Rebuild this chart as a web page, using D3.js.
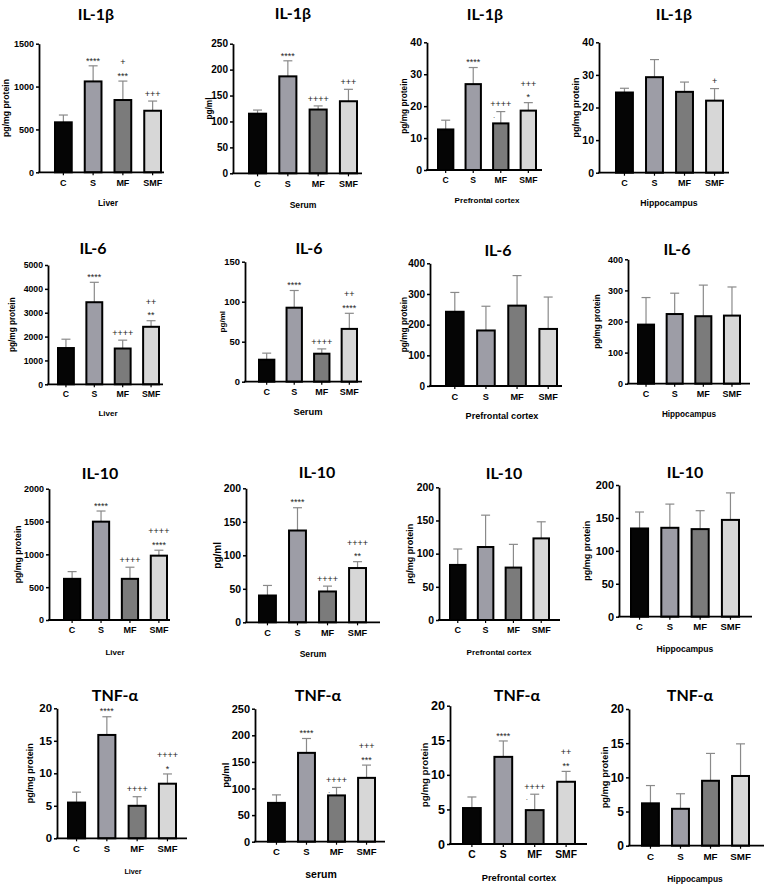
<!DOCTYPE html>
<html lang="en">
<head>
    <meta charset="UTF-8">
    <title>Cytokine levels</title>
    <script type="text/javascript" src="https://d3js.org/d3.v7.min.js"></script>
    <style>
        body { margin: 0; background: #fff; }
        .tick text, .ylab, .xlab, .mark { font-family: "Liberation Sans", Arial, sans-serif; }
        .mark { opacity: 0.99; }
        .title { font-family: Lato, "Open Sans", sans-serif; font-weight: bold; }
    </style>
</head>
<body>
    <div id="chart"></div>

    <script type="text/javascript">

        // groups and tissues
        var groups = ["C", "S", "MF", "SMF"];
        var cytokines = ["IL-1β", "IL-6", "IL-10", "TNF-α"];
        var yLabels = ["pg/mg protein", "pg/ml", "pg/mg protein", "pg/mg protein"];
        var xTitles = [
            ["Liver", "Serum", "Prefrontal cortex", "Hippocampus"],
            ["Liver", "Serum", "Prefrontal cortex", "Hippocampus"],
            ["Liver", "Serum", "Prefrontal cortex", "Hippocampus"],
            ["Liver", "serum", "Prefrontal cortex", "Hippocampus"]
        ];

        // means (rows: liver, serum, prefrontal cortex, hippocampus; cols: C, S, MF, SMF)
        var il1bMean = [[583, 1060, 843, 718], [115, 187, 123, 139], [12.7, 26.9, 14.6, 18.6], [24.6, 29.3, 24.8, 22.1]];
        var il1bSD   = [[85, 182, 221, 113], [7, 30, 7, 23], [2.9, 5.2, 3.7, 2.5], [1.3, 5.4, 3, 3.7]];
        var il6Mean  = [[1520, 3440, 1500, 2410], [27.5, 92.5, 35, 66], [242, 181, 262, 186], [190, 224, 217, 219]];
        var il6SD    = [[370, 835, 350, 255], [8.2, 21.5, 6, 19.5], [63, 79, 98, 104], [87, 67, 100, 92]];
        var il10Mean = [[627, 1498, 627, 980], [40, 137, 46, 81], [83, 110, 79, 123], [134, 135, 133, 147]];
        var il10SD   = [[110, 162, 177, 83], [15, 34, 8, 9.5], [24, 48, 35, 25], [25, 36, 28, 41]];
        var tnfMean  = [[5.5, 15.9, 5.0, 8.4], [73, 167, 87, 120], [5.2, 12.6, 4.9, 9.0], [6.2, 5.4, 9.5, 10.2]];
        var tnfSD    = [[1.6, 2.8, 1.4, 1.5], [15, 27, 15, 24], [1.6, 2.3, 2.3, 1.5], [2.6, 2.2, 4.0, 4.7]];

        // y axis maximum and tick step per panel
        var il1bMax = [1500, 250, 40, 40],  il1bStep = [500, 50, 10, 10];
        var il6Max  = [5000, 150, 400, 400], il6Step = [1000, 50, 100, 100];
        var il10Max = [2000, 200, 200, 200], il10Step = [500, 50, 50, 50];
        var tnfMax  = [20, 250, 20, 20],    tnfStep = [5, 50, 5, 5];

        // significance marks, listed bottom line first
        var il1bMarks = [
            [[], ["****"], ["***", "+"], ["+++"]],
            [[], ["****"], ["++++"], ["+++"]],
            [[], ["****"], ["++++"], ["*", "+++"]],
            [[], [], [], ["+"]]
        ];
        var il6Marks = [
            [[], ["****"], ["++++"], ["**", "++"]],
            [[], ["****"], ["++++"], ["****", "++"]],
            [[], [], [], []],
            [[], [], [], []]
        ];
        var il10Marks = [
            [[], ["****"], ["++++"], ["****", "++++"]],
            [[], ["****"], ["++++"], ["**", "++++"]],
            [[], [], [], []],
            [[], [], [], []]
        ];
        var tnfMarks = [
            [[], ["****"], ["++++"], ["*", "++++"]],
            [[], ["****"], ["++++"], ["***", "+++"]],
            [[], ["****"], ["++++"], ["**", "++"]],
            [[], [], [], []]
        ];
        // small dots next to some error bars: [row, panel, group]
        var dotMarks = [[0, 2, "MF"], [3, 1, "MF"], [3, 2, "MF"]];

        var colors = {C: "#050505", S: "#9d9da6", MF: "#7b7b7b", SMF: "#d7d7d7"};

        var rows = [
            {name: cytokines[0], mean: il1bMean, sd: il1bSD, max: il1bMax, step: il1bStep, marks: il1bMarks},
            {name: cytokines[1], mean: il6Mean, sd: il6SD, max: il6Max, step: il6Step, marks: il6Marks},
            {name: cytokines[2], mean: il10Mean, sd: il10SD, max: il10Max, step: il10Step, marks: il10Marks},
            {name: cytokines[3], mean: tnfMean, sd: tnfSD, max: tnfMax, step: tnfStep, marks: tnfMarks}
        ];

        // panel placement (the source figure is a collage, every panel sits a bit differently)
        var layout = [
            {ax: 39,  top: 43.7,  zero: 172.3, b0: 54,  b1: 162, end: 164, tx: 96,  ty: 20,  lx: 108, ly: 206, yo: 33, fs: 9,    yf: 8.7, lf: 8.4, xf: 9},
            {ax: 233, top: 43.7,  zero: 173.3, b0: 248, b1: 358, end: 362, tx: 293, ty: 19,  lx: 303, ly: 208, yo: 24, fs: 10,   yf: 8.2, lf: 8.6, xf: 9},
            {ax: 427, top: 42.3,  zero: 170,   b0: 437, b1: 537, end: 542, tx: 485, ty: 20,  lx: 487, ly: 203, yo: 23, fs: 10.5, yf: 8.3, lf: 8.1, xf: 8.6},
            {ax: 599, top: 42.3,  zero: 172.7, b0: 615, b1: 724, end: 729, tx: 674, ty: 20,  lx: 669, ly: 206, yo: 23, fs: 10.5, yf: 9,   lf: 8.7, xf: 9},
            {ax: 48,  top: 265,   zero: 384.3, b0: 57,  b1: 160, end: 163, tx: 93,  ty: 254, lx: 108, ly: 416, yo: 36, fs: 8.7,  yf: 8.2, lf: 8,   xf: 8.7},
            {ax: 245, top: 261.7, zero: 381.7, b0: 258, b1: 358, end: 362, tx: 309, ty: 254, lx: 308, ly: 415, yo: 23, fs: 9.4,  yf: 8.1, lf: 9.4, xf: 9},
            {ax: 430, top: 263.3, zero: 386,   b0: 445, b1: 558, end: 562, tx: 498, ty: 256, lx: 502, ly: 419, yo: 26, fs: 10,   yf: 8.3, lf: 9.1, xf: 9.2},
            {ax: 628, top: 259.3, zero: 383.7, b0: 637, b1: 741, end: 750, tx: 677, ty: 255, lx: 689, ly: 417, yo: 31, fs: 9,    yf: 8.2, lf: 8.2, xf: 9},
            {ax: 49,  top: 488.7, zero: 620,   b0: 63,  b1: 168, end: 170, tx: 100, ty: 479, lx: 115, ly: 655, yo: 31, fs: 9,    yf: 8.7, lf: 8,   xf: 9},
            {ax: 246, top: 488.3, zero: 622.3, b0: 258, b1: 367, end: 380, tx: 317, ty: 478, lx: 313, ly: 657, yo: 29, fs: 10.4, yf: 10,  lf: 8.6, xf: 9.2},
            {ax: 439, top: 487.3, zero: 620,   b0: 449, b1: 550, end: 560, tx: 504, ty: 479, lx: 499, ly: 655, yo: 29, fs: 10.4, yf: 9,   lf: 8.1, xf: 9},
            {ax: 619, top: 485,   zero: 616.7, b0: 630, b1: 740, end: 752, tx: 685, ty: 478, lx: 685, ly: 652, yo: 32, fs: 11,   yf: 9,   lf: 8.6, xf: 9.5},
            {ax: 57,  top: 708.3, zero: 838.3, b0: 67,  b1: 177, end: 187, tx: 115, ty: 701, lx: 133, ly: 874, yo: 27, fs: 11.4, yf: 9,   lf: 7.2, xf: 9.5},
            {ax: 255, top: 708.7, zero: 841.7, b0: 267, b1: 376, end: 385, tx: 318, ty: 701, lx: 321, ly: 878, yo: 29, fs: 11,   yf: 9.5, lf: 10.5, xf: 9.5},
            {ax: 450, top: 705.7, zero: 844,   b0: 462, b1: 576, end: 587, tx: 517, ty: 701, lx: 519, ly: 881, yo: 25, fs: 12.6, yf: 9.7, lf: 9.3, xf: 10.3},
            {ax: 629, top: 709,   zero: 845.7, b0: 641, b1: 750, end: 764, tx: 690, ty: 701, lx: 695, ly: 882, yo: 24, fs: 12,   yf: 9.3, lf: 8.4, xf: 9.8}
        ];

        var svg = d3.select("#chart")
            .append("svg")
            .attr("width", 764)
            .attr("height", 886);

        rows.forEach(function(row, r) {
            for (var c = 0; c < 4; c++) {
                drawPanel(row, r, c, layout[r * 4 + c]);
            }
        });

        function drawPanel(row, r, c, p) {
            var g = svg.append("g");

            var y = d3.scaleLinear()
                .domain([0, row.max[c]])
                .range([p.zero, p.top]);

            var x = d3.scaleBand()
                .domain(groups)
                .range([p.b0, p.b1])
                .paddingInner(0.37)
                .paddingOuter(0);

            var data = groups.map(function(k, i) {
                return {g: k, m: row.mean[c][i], sd: row.sd[c][i], marks: row.marks[c][i]};
            });

            // error bars (upper whisker only)
            var err = g.selectAll(".err")
                .data(data)
                .enter()
                .append("g")
                .attr("class", "err")
                .attr("stroke", "#8a8a8a")
                .attr("stroke-width", 1.2);
            err.append("line")
                .attr("x1", function(d) { return x(d.g) + x.bandwidth() / 2; })
                .attr("x2", function(d) { return x(d.g) + x.bandwidth() / 2; })
                .attr("y1", function(d) { return y(d.m); })
                .attr("y2", function(d) { return y(d.m + d.sd); });
            err.append("line")
                .attr("x1", function(d) { return x(d.g) + x.bandwidth() / 2 - 4.5; })
                .attr("x2", function(d) { return x(d.g) + x.bandwidth() / 2 + 4.5; })
                .attr("y1", function(d) { return y(d.m + d.sd); })
                .attr("y2", function(d) { return y(d.m + d.sd); });

            // bars
            g.selectAll(".bar")
                .data(data)
                .enter()
                .append("rect")
                .attr("class", "bar")
                .attr("x", function(d) { return x(d.g) + 1; })
                .attr("y", function(d) { return y(d.m); })
                .attr("width", x.bandwidth() - 2)
                .attr("height", function(d) { return y(0) - y(d.m); })
                .attr("fill", function(d) { return colors[d.g]; })
                .attr("stroke", "#000")
                .attr("stroke-width", 2);

            // y axis
            var yAxis = g.append("g")
                .attr("transform", "translate(" + p.ax + ",0)")
                .call(d3.axisLeft(y)
                    .tickValues(d3.range(0, row.max[c] + 1e-9, row.step[c]))
                    .tickFormat(d3.format("d"))
                    .tickSize(3)
                    .tickSizeOuter(0)
                    .tickPadding(2));
            yAxis.select(".domain").attr("stroke-width", 1.8);
            yAxis.selectAll(".tick line").attr("stroke-width", 1.5);
            yAxis.selectAll(".tick text")
                .attr("font-size", p.fs)
                .attr("font-weight", "bold")
                .attr("fill", "#000");

            // x axis: line runs past the last bar
            g.append("line")
                .attr("x1", p.ax - 0.9)
                .attr("x2", p.end)
                .attr("y1", y(0))
                .attr("y2", y(0))
                .attr("stroke", "#000")
                .attr("stroke-width", 1.8);
            var xAxis = g.append("g")
                .attr("transform", "translate(0," + y(0) + ")")
                .call(d3.axisBottom(x).tickSize(3).tickSizeOuter(0).tickPadding(4));
            xAxis.select(".domain").remove();
            xAxis.selectAll(".tick line").attr("stroke-width", 1.2);
            xAxis.selectAll(".tick text")
                .attr("font-size", p.xf)
                .attr("font-weight", "bold")
                .attr("fill", "#000");

            // significance marks
            data.forEach(function(d) {
                d.marks.forEach(function(s, j) {
                    var center = y(d.m + d.sd) - 7.5 - 11.5 * j;
                    var shift = s.charAt(0) === "*" ? 5.2 : 3.1;
                    g.append("text")
                        .attr("class", "mark")
                        .attr("x", x(d.g) + x.bandwidth() / 2)
                        .attr("y", center + shift)
                        .attr("text-anchor", "middle")
                        .attr("font-size", 9)
                        .attr("fill", "#222")
                        .text(s);
                });
            });
            dotMarks.forEach(function(m) {
                if (m[0] !== r || m[1] !== c) return;
                var i = groups.indexOf(m[2]);
                g.append("text")
                    .attr("class", "mark")
                    .attr("x", x(m[2]) + 1)
                    .attr("y", y(row.mean[c][i] + row.sd[c][i]) + 6)
                    .attr("font-size", 8)
                    .attr("fill", "#444")
                    .text(".");
            });

            // title
            g.append("text")
                .attr("class", "title")
                .attr("x", p.tx)
                .attr("y", p.ty)
                .attr("text-anchor", "middle")
                .attr("font-size", 16)
                .text(row.name);

            // y label
            g.append("text")
                .attr("class", "ylab")
                .attr("transform", "translate(" + (p.ax - p.yo) + "," + ((p.top + p.zero) / 2) + ") rotate(-90)")
                .attr("dy", "0.35em")
                .attr("text-anchor", "middle")
                .attr("font-size", p.yf)
                .attr("font-weight", "bold")
                .text(yLabels[c]);

            // x title
            g.append("text")
                .attr("class", "xlab")
                .attr("x", p.lx)
                .attr("y", p.ly)
                .attr("text-anchor", "middle")
                .attr("font-size", p.lf)
                .attr("font-weight", "bold")
                .text(xTitles[r][c]);
        }
    </script>
</body>
</html>
